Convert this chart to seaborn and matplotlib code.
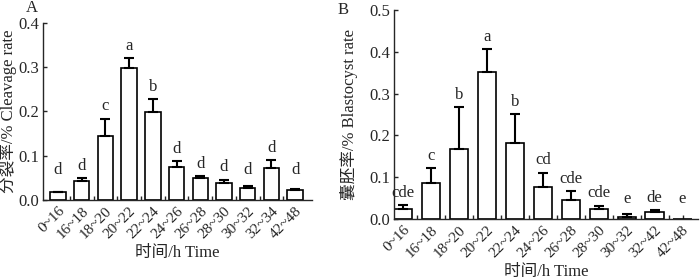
import numpy as np
import pandas as pd
import seaborn as sns
import matplotlib.pyplot as plt

# cleavage rate (panel A)
times_a = ['0~16', '16~18', '18~20', '20~22', '22~24', '24~26', '26~28', '28~30', '30~32', '32~34', '42~48']
cleavage = [0.017, 0.042, 0.144, 0.299, 0.199, 0.075, 0.050, 0.039, 0.026, 0.073, 0.022]
cleavage_err = [0.002, 0.008, 0.040, 0.021, 0.029, 0.013, 0.004, 0.007, 0.005, 0.017, 0.002]
letters_a = ['d', 'd', 'c', 'a', 'b', 'd', 'd', 'd', 'd', 'd', 'd']

# blastocyst rate (panel B)
times_b = ['0~16', '16~18', '18~20', '20~22', '22~24', '24~26', '26~28', '28~30', '30~32', '32~42', '42~48']
blasto = [0.025, 0.086, 0.167, 0.351, 0.183, 0.076, 0.045, 0.024, 0.005, 0.016, 0.0]
blasto_err = [0.008, 0.036, 0.101, 0.055, 0.068, 0.035, 0.022, 0.008, 0.006, 0.005, 0.0]
letters_b = ['cde', 'c', 'b', 'a', 'b', 'cd', 'cde', 'cde', 'e', 'de', 'e']

sns.set_style('ticks')
plt.rcParams['font.family'] = ['Liberation Serif', 'Noto Sans CJK SC']
plt.rcParams['font.size'] = 12

fig = plt.figure(figsize=(7, 2.8), dpi=100)
ax1 = fig.add_axes([0.0614, 0.286, 0.384, 0.632])
ax2 = fig.add_axes([0.563, 0.218, 0.434, 0.746])


def panel(ax, times, vals, errs, letters, ymax, xlim, ylabel, floor):
    df = pd.DataFrame({'time': times, 'rate': vals})
    sns.barplot(data=df, x='time', y='rate', ax=ax, color='white',
                edgecolor='black', linewidth=1.2, width=0.65, errorbar=None)
    x = np.arange(len(times))
    e = np.array(errs)
    m = e > 0
    ax.errorbar(x[m], np.array(vals)[m], yerr=[np.zeros(m.sum()), e[m]], fmt='none',
                ecolor='black', elinewidth=1.5, capsize=3.5, capthick=1.5)
    for xi, v, er, lt in zip(x, vals, errs, letters):
        ax.annotate(lt, (xi, max(v + er, floor)), xytext=(0, 3),
                    textcoords='offset points', ha='center', va='bottom',
                    fontsize=12)
    ax.set_xlim(*xlim)
    ax.set_ylim(0, ymax)
    ticks = np.arange(0, ymax + 0.001, 0.1)
    ax.set_yticks(ticks)
    ax.set_yticklabels(['%.1f' % t for t in ticks])
    ax.set_xticks(x)
    ax.set_xticks(x[:-1] + 0.5, minor=True)
    ax.set_xticklabels(times, rotation=45, ha='right', rotation_mode='anchor')
    ax.tick_params(axis='both', which='both', direction='in', length=3, width=1)
    ax.tick_params(axis='x', labelsize=11, pad=3)
    ax.tick_params(axis='y', labelsize=12, pad=3)
    ax.set_xlabel('时间/h Time', fontsize=12)
    ax.set_ylabel(ylabel, fontsize=12)
    for s in ['top', 'right']:
        ax.spines[s].set_visible(False)
    for s in ['left', 'bottom']:
        ax.spines[s].set_linewidth(1)


panel(ax1, times_a, cleavage, cleavage_err, letters_a, 0.4, (-0.63, 10.7),
      '分裂率/% Cleavage rate', 0.04)
panel(ax2, times_b, blasto, blasto_err, letters_b, 0.5, (-0.32, 10.55),
      '囊胚率/% Blastocyst rate', 0.018)

ax1.xaxis.set_label_coords(0.5, -0.255)
ax2.xaxis.set_label_coords(0.5, -0.215)
ax1.yaxis.set_label_coords(-0.095, 0.5)
ax2.yaxis.set_label_coords(-0.118, 0.5)

fig.text(32 / 700, 1 - 8 / 280, 'A', fontsize=12, ha='center', va='center')
fig.text(343 / 700, 1 - 10 / 280, 'B', fontsize=12, ha='center', va='center')

fig.savefig('out.png', dpi=100)
